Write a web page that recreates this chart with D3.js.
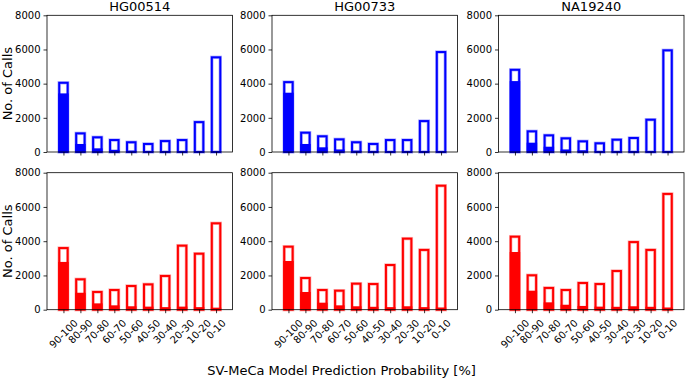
<!DOCTYPE html>
<html><head><meta charset="utf-8">
<script src="https://cdn.jsdelivr.net/npm/d3@7"></script>
<style>body{margin:0;background:#fff;} svg{display:block;font-family:"DejaVu Sans",sans-serif;}</style>
</head><body>
<svg id="c" width="685" height="379"></svg>
<script>
const categories = ["90-100","80-90","70-80","60-70","50-60","40-50","30-40","20-30","10-20","0-10"];
const samples = ["HG00514","HG00733","NA19240"];
const yTicks = [0,2000,4000,6000,8000];

// top row (blue): total calls and filled portion
const blueTotal_HG00514 = [4050,1090,860,700,570,470,640,700,1750,5540];
const bluePart_HG00514  = [3430,470,215,130,80,60,50,50,50,50];
const blueTotal_HG00733 = [4090,1130,920,740,570,470,700,700,1810,5850];
const bluePart_HG00733  = [3470,470,275,150,80,60,50,50,50,50];
const blueTotal_NA19240 = [4810,1210,975,800,625,510,720,820,1890,5950];
const bluePart_NA19240  = [4150,545,310,150,100,60,50,50,50,50];

// bottom row (red)
const redTotal_HG00514 = [3600,1775,1035,1150,1385,1480,1970,3740,3270,5045];
const redPart_HG00514  = [2790,990,370,255,200,180,150,180,150,120];
const redTotal_HG00733 = [3680,1850,1150,1110,1520,1500,2610,4150,3490,7240];
const redPart_HG00733  = [2845,1035,410,255,200,170,150,200,150,130];
const redTotal_NA19240 = [4265,2010,1270,1150,1560,1500,2260,3950,3490,6760];
const redPart_NA19240  = [3370,1110,430,290,220,180,170,200,170,130];

const rows = [
  {color:"#0000ff", totals:[blueTotal_HG00514,blueTotal_HG00733,blueTotal_NA19240], parts:[bluePart_HG00514,bluePart_HG00733,bluePart_NA19240], top:15.3, bottom:152, labels:false, titles:true},
  {color:"#ff0000", totals:[redTotal_HG00514,redTotal_HG00733,redTotal_NA19240], parts:[redPart_HG00514,redPart_HG00733,redPart_NA19240], top:172.7, bottom:309.7, labels:true, titles:false}
];
const panelLefts = [47, 272, 498.5];
const panelW = 185.5;
const barW = 0.5;

const svg = d3.select("#c");

rows.forEach((row, ri) => {
  const y = d3.scaleLinear().domain([0,8000]).range([row.bottom,row.top]);
  panelLefts.forEach((L, pi) => {
    const x = d3.scaleLinear().domain([-0.97, 9.97]).range([L, L+panelW]);
    const g = svg.append("g");
    const tot = row.totals[pi], part = row.parts[pi];
    // halo
    g.selectAll("rect.halo").data(tot).join("rect")
      .attr("x",(d,i)=>x(i-barW/2)).attr("width",x(barW)-x(0))
      .attr("y",d=>y(d)).attr("height",d=>y(0)-y(d))
      .attr("fill","none").attr("stroke",row.color).attr("stroke-opacity",0.3).attr("stroke-width",3.4);
    // filled part
    g.selectAll("rect.part").data(part).join("rect")
      .attr("x",(d,i)=>x(i-barW/2)-1).attr("width",x(barW)-x(0)+2)
      .attr("y",d=>y(d)).attr("height",d=>y(0)-y(d))
      .attr("fill",row.color);
    // outline
    g.selectAll("rect.tot").data(tot).join("rect")
      .attr("x",(d,i)=>x(i-barW/2)).attr("width",x(barW)-x(0))
      .attr("y",d=>y(d)).attr("height",d=>y(0)-y(d))
      .attr("fill","none").attr("stroke",row.color).attr("stroke-width",2);

    // frame
    g.append("rect").attr("x",L).attr("y",row.top).attr("width",panelW).attr("height",row.bottom-row.top)
      .attr("fill","none").attr("stroke","#000").attr("stroke-width",0.8);

    // y axis
    const ya = g.append("g").attr("transform",`translate(${L},0)`)
      .call(d3.axisLeft(y).tickValues(yTicks).tickFormat(d3.format("d")).tickSize(3.5).tickPadding(3));
    ya.select(".domain").remove();
    ya.selectAll("text").attr("font-size","10px").attr("fill","#000").attr("font-family","DejaVu Sans");
    ya.selectAll("line").attr("stroke","#000").attr("stroke-width",0.8);

    // x axis
    const xa = g.append("g").attr("transform",`translate(0,${row.bottom})`)
      .call(d3.axisBottom(x).tickValues(d3.range(categories.length)).tickSize(3.5).tickFormat(""));
    xa.select(".domain").remove();
    xa.selectAll("line").attr("stroke","#000").attr("stroke-width",0.8);

    if (row.labels) {
      const lg = g.append("g");
      categories.forEach((c,i) => {
        const t = lg.append("text").text(c).attr("font-size","10px").attr("fill","#000")
          .attr("text-anchor","middle").attr("dominant-baseline","central");
        const len = t.node().getComputedTextLength();
        const h = 10;
        const cy = row.bottom + 8 + (len + h) * 0.3536;
        t.attr("transform",`translate(${x(i)},${cy}) rotate(-45)`);
      });
    }
    if (row.titles) {
      g.append("text").text(samples[pi]).attr("x",L+panelW/2).attr("y",11)
        .attr("text-anchor","middle").attr("font-size","13px").attr("fill","#000");
    }
    if (pi === 0) {
      const cy = (row.top+row.bottom)/2;
      g.append("text").text("No. of Calls").attr("transform",`translate(12,${cy}) rotate(-90)`)
        .attr("text-anchor","middle").attr("font-size","13px").attr("fill","#000");
    }
  });
});

svg.append("text").text("SV-MeCa Model Prediction Probability [%]")
  .attr("x",341.5).attr("y",375).attr("text-anchor","middle").attr("font-size","13px").attr("fill","#000");
</script>
</body></html>
